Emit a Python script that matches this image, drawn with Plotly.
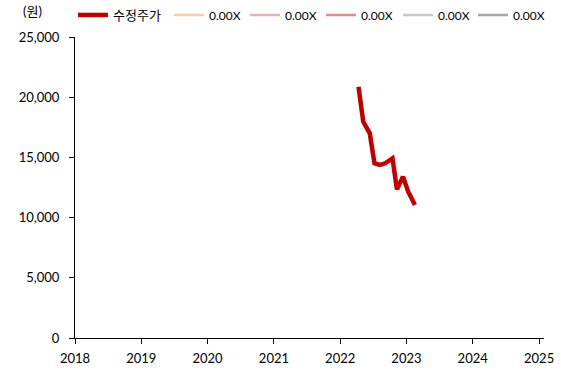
import plotly.graph_objects as go

# Adjusted share price (won), monthly
dates = ["2022-04-12", "2022-05-08", "2022-06-13", "2022-07-09", "2022-08-08",
         "2022-09-06", "2022-10-16", "2022-11-10", "2022-12-13", "2023-01-11",
         "2023-02-17"]
prices = [20870, 17970, 17000, 14510, 14370, 14510, 14920, 12350, 13400, 12150, 11050]

# PER band series (no values available)
band_names = ["0.00X", "0.00X", "0.00X", "0.00X", "0.00X"]
band_colors = ["#F8CBAD", "#E6B4B4", "#DE8C8C", "#C8C8C8", "#A6A6A6"]

year_ticks = ["2018-01-01", "2019-01-01", "2020-01-01", "2021-01-01",
              "2022-01-01", "2023-01-01", "2024-01-01", "2025-01-01"]
year_labels = ["2018", "2019", "2020", "2021", "2022", "2023", "2024", "2025"]
y_ticks = [0, 5000, 10000, 15000, 20000, 25000]

FONT = "Lato, 'Noto Sans CJK KR', sans-serif"
W, H = 561, 370
ML, MR, MT, MB = 75, 17, 37, 32

# left edge (px) of each legend entry along the top row
legend_px = [73, 169, 245, 321, 398, 473]

fig = go.Figure()
fig.add_trace(go.Scatter(
    x=dates, y=prices, mode="lines", name="수정주가",
    line=dict(color="#C00000", width=4.5, shape="linear"),
    legend="legend",
))
for i, (name, color) in enumerate(zip(band_names, band_colors)):
    fig.add_trace(go.Scatter(
        x=[None], y=[None], mode="lines", name=name,
        line=dict(color=color, width=2.5),
        legend=f"legend{i + 2}",
    ))

legends = {}
for i, px in enumerate(legend_px):
    key = "legend" if i == 0 else f"legend{i + 1}"
    legends[key] = dict(
        orientation="h", xref="container", x=px / W, xanchor="left",
        yref="container", y=1 - 15 / H, yanchor="middle",
        font=dict(size=12 if i else 13), itemwidth=30,
        bgcolor="rgba(0,0,0,0)", borderwidth=0,
    )

fig.update_layout(
    width=W, height=H,
    margin=dict(l=ML, r=MR, t=MT, b=MB, autoexpand=False),
    paper_bgcolor="white", plot_bgcolor="white",
    font=dict(family=FONT, size=13, color="#000000"),
    showlegend=True,
    xaxis=dict(
        type="date", range=["2018-01-01", "2025-01-28"],
        tickvals=year_ticks, ticktext=year_labels,
        showline=True, linecolor="#000000", linewidth=1,
        ticks="outside", ticklen=5, tickcolor="#000000",
        showgrid=False, zeroline=False, fixedrange=True,
        tickfont=dict(size=13), automargin=False, ticklabelstandoff=3,
    ),
    yaxis=dict(
        range=[0, 25000], tickvals=y_ticks, tickformat=",",
        showline=True, linecolor="#000000", linewidth=1,
        ticks="outside", ticklen=5, tickcolor="#000000",
        showgrid=False, zeroline=False, fixedrange=True,
        tickfont=dict(size=13), automargin=False, ticklabelstandoff=7,
    ),
    annotations=[dict(
        text="(원)", xref="paper", yref="paper", x=-0.09, y=1.0,
        xanchor="center", yanchor="bottom", yshift=16, showarrow=False,
        font=dict(size=13),
    )],
    **legends,
)

fig.write_html("out.html")
